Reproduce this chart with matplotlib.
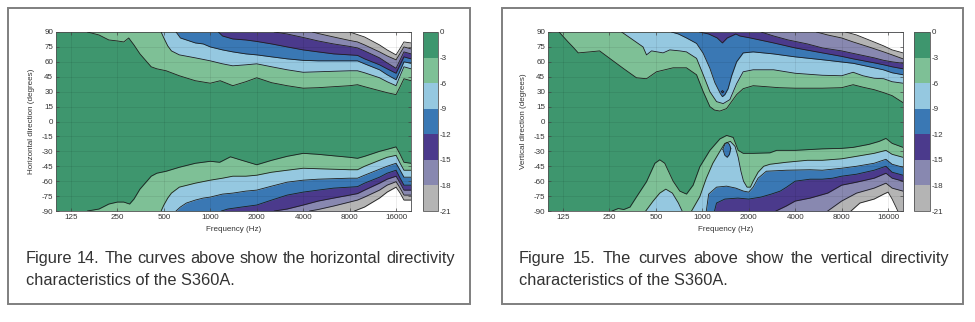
import numpy as np
import matplotlib
matplotlib.use('Agg')
import matplotlib.pyplot as plt
from matplotlib.colors import ListedColormap, BoundaryNorm
from matplotlib.cm import ScalarMappable
from matplotlib.patches import Rectangle
from matplotlib.ticker import NullLocator

plt.rcParams['font.family'] = ['Liberation Sans', 'DejaVu Sans']
plt.rcParams['axes.unicode_minus'] = False

# contour levels (dB) and the colours of the bands between them
levels = [0, -3, -6, -9, -12, -15, -18, -21]
band_colors = ['#3e966e', '#7ec096', '#95c8e0', '#3a78b4', '#4b3a8c', '#8888b0', '#b4b4b4']
below_colour = 'white'

freq_ticks = [125, 250, 500, 1000, 2000, 4000, 8000, 16000]
angle_ticks = list(range(-90, 91, 15))

# ---- Figure 14, horizontal: (frequency Hz, angle deg) along each contour
h_top_3 = [(160, 90), (190, 87), (220, 82), (250, 81), (275, 80), (296, 84), (320, 77), (350, 68),
           (414, 55), (450, 53), (518, 51), (630, 46), (800, 41), (1000, 38.5), (1160, 41), (1400, 36),
           (1700, 40), (2000, 44), (2500, 39), (3150, 36), (4000, 33.5), (5000, 34), (6300, 35),
           (8000, 36), (9000, 37), (10000, 35), (12500, 31), (14000, 29), (16000, 27), (17000, 35),
           (18000, 43), (20000, 41)]
h_top_6 = [(480, 90), (500, 84), (530, 76), (560, 71), (630, 67), (800, 64), (1000, 61), (1200, 58),
           (1400, 56), (1700, 57), (2000, 58), (2500, 55), (3150, 52), (4000, 49.5), (5000, 50),
           (6300, 50.5), (8000, 51), (9000, 51), (10000, 49), (12500, 44), (14000, 40), (16000, 36),
           (17000, 46), (18000, 55), (20000, 53)]
h_top_9 = [(600, 90), (640, 84), (700, 82), (800, 79), (900, 78), (1000, 75), (1200, 72), (1400, 70),
           (1700, 68), (2000, 67), (2500, 65), (3150, 63), (4000, 61.5), (5000, 61), (6300, 61),
           (8000, 61), (9000, 61), (10000, 58), (12500, 52), (14000, 47), (16000, 42), (17000, 51),
           (18000, 60), (20000, 58.5)]
h_top_12 = [(1130, 90), (1200, 86), (1400, 83), (1700, 82), (2000, 80.5), (2500, 78), (3150, 75),
            (4000, 72), (5000, 70), (6300, 68), (8000, 67), (9000, 66.5), (10000, 63), (12500, 57),
            (14000, 53), (16000, 48.5), (17000, 57), (18000, 65), (20000, 63)]
h_top_15 = [(2600, 90), (3150, 88), (4000, 84.5), (5000, 81), (6300, 78), (8000, 75.5), (9000, 74),
            (10000, 71), (12500, 64), (14000, 59), (16000, 53.5), (17000, 62), (18000, 70), (20000, 68)]
h_top_18 = [(4600, 90), (5000, 88.5), (6300, 85), (8000, 81.5), (9000, 80), (10000, 77), (12500, 70),
            (14000, 66), (16000, 62), (17000, 68.5), (18000, 75), (20000, 73)]
h_top_21 = [(8000, 90), (10000, 85), (12500, 77), (14000, 72), (16000, 67), (17000, 73.5),
            (18000, 80), (20000, 79)]

h_bot_3 = [(160, -90), (190, -88), (220, -83), (250, -81), (275, -81), (300, -83), (320, -78),
           (350, -68), (414, -55), (450, -52), (518, -50), (630, -46), (800, -42), (1000, -40),
           (1150, -41), (1350, -35.5), (1600, -39), (2000, -43.5), (2500, -39), (3150, -35),
           (4000, -32), (5000, -33), (6300, -34.5), (8000, -36), (9000, -37), (10000, -35),
           (12500, -30), (14000, -28), (16000, -25.5), (17000, -33), (18000, -41), (20000, -42)]
h_bot_6 = [(480, -90), (500, -84), (530, -77), (560, -72), (630, -66), (800, -62), (1000, -59),
           (1200, -57), (1400, -55), (1700, -55), (2000, -54), (2500, -51), (3150, -49), (4000, -47),
           (5000, -47.5), (6300, -48), (8000, -48.5), (9000, -48.5), (10000, -45), (12500, -39),
           (14000, -36), (16000, -34), (17000, -42), (18000, -49), (20000, -49)]
h_bot_9 = [(600, -90), (640, -86), (700, -82), (800, -79), (900, -77), (1000, -76), (1200, -73),
           (1400, -72), (1700, -70), (2000, -69), (2500, -65), (3150, -61), (4000, -59), (5000, -58),
           (6300, -57.5), (8000, -57), (9000, -57), (10000, -54), (12500, -48), (14000, -45),
           (16000, -42), (17000, -49), (18000, -56), (20000, -56)]
h_bot_12 = [(1180, -90), (1300, -88), (1600, -86), (2000, -84), (2500, -79), (3150, -74), (4000, -71),
            (5000, -69), (6300, -67), (8000, -66), (9000, -65.5), (10000, -62), (12500, -56),
            (14000, -52), (16000, -49), (17000, -57), (18000, -64), (20000, -64)]
h_bot_15 = [(2600, -90), (3150, -88), (4000, -84), (5000, -80), (6300, -77), (8000, -74),
            (9000, -72.5), (10000, -69), (12500, -62), (14000, -58), (16000, -55), (17000, -62),
            (18000, -69), (20000, -69)]
h_bot_18 = [(4400, -90), (5000, -88.5), (6300, -85), (8000, -81), (9000, -79), (10000, -76),
            (12500, -69), (14000, -64), (16000, -60.5), (17000, -67), (18000, -74), (20000, -74)]
h_bot_21 = [(8600, -90), (10000, -86), (12500, -77), (14000, -71), (16000, -66), (17000, -72),
            (18000, -79), (20000, -79)]

# ---- Figure 15, vertical
v_top_3 = [(118, 90), (135, 80), (145, 75), (157, 69), (186, 70), (216, 71), (251, 63.5), (307, 53.5),
           (374, 44), (435, 43), (505, 50), (647, 54), (790, 54), (918, 47), (1014, 30), (1120, 15),
           (1200, 11.5), (1300, 10.5), (1437, 13), (1669, 27), (1841, 33), (2137, 36), (2600, 35),
           (3150, 34), (4000, 33.5), (6000, 33.5), (8000, 34), (9500, 37), (11000, 34.5), (13000, 32),
           (15000, 29), (17000, 26), (20000, 19)]
v_top_6 = [(300, 90), (356, 82), (413, 75), (435, 67), (469, 71), (557, 69), (616, 72), (715, 71),
           (790, 70), (918, 63.5), (1014, 47), (1120, 30), (1237, 20), (1366, 18), (1509, 22),
           (1669, 38), (1841, 50), (2137, 52), (2900, 52), (4000, 48.5), (6000, 46.5), (8000, 46),
           (9500, 49.5), (11000, 46), (13000, 43.5), (15000, 43), (17000, 40), (20000, 38.5)]
v_top_9 = [(632, 90), (700, 88), (790, 84), (918, 78.5), (1014, 68.5), (1120, 53.5), (1207, 39),
           (1310, 28), (1350, 25), (1400, 27), (1470, 33), (1550, 46), (1669, 60), (1841, 69),
           (2137, 70), (2882, 68), (4000, 65), (6083, 62), (9523, 58.5), (13000, 54), (14900, 52),
           (17000, 49), (20000, 47)]
v_top_12 = [(960, 90), (1100, 88), (1250, 84), (1350, 79), (1450, 84), (1650, 88), (1750, 86),
            (2050, 84), (2900, 79), (4000, 74), (6000, 69), (8000, 65.5), (9500, 63), (13000, 59),
            (15000, 57), (17000, 55), (20000, 53)]
v_top_15 = [(2400, 90), (2900, 86), (3600, 82), (4800, 78), (6000, 74), (8000, 71), (9500, 68.5),
            (13000, 64), (15000, 61.5), (17000, 60), (20000, 58.5)]
v_top_18 = [(5500, 90), (6500, 87), (8000, 84), (9500, 80), (12000, 75), (15000, 70), (17000, 67),
            (20000, 63)]
v_top_21 = [(8500, 90), (10000, 87), (12500, 81), (15000, 76), (17000, 72), (20000, 69)]

v_bot_3 = [(260, -90), (285, -87.5), (310, -88.5), (340, -86), (374, -76), (435, -60.5), (493, -42),
           (530, -38.5), (571, -42), (647, -60), (715, -70), (790, -73), (872, -64), (964, -45.5),
           (1120, -29), (1300, -17.5), (1437, -14), (1586, -16), (1709, -29), (1841, -32),
           (2137, -32), (2744, -31.5), (3031, -29), (4000, -29), (6000, -27.5), (8000, -27),
           (9500, -26), (12000, -23), (14000, -20), (15500, -17), (17000, -22), (20000, -26)]
v_bot_6_lobe = [(430, -90), (480, -80), (530, -72), (580, -68), (640, -72), (700, -82), (740, -90)]
v_bot_6 = [(852, -90), (964, -75.5), (1062, -57), (1170, -42), (1300, -30), (1400, -22), (1520, -20),
           (1630, -25), (1709, -36), (1780, -50), (1850, -60), (1950, -66), (2050, -66), (2137, -60),
           (2300, -51), (2500, -45), (2744, -43), (3500, -41), (4800, -39), (6000, -39), (8000, -37.5),
           (10000, -35), (13000, -32), (15500, -29), (17000, -33), (20000, -36)]
v_bot_9 = [(1062, -90), (1100, -73), (1237, -66), (1437, -65), (1650, -67), (1850, -70), (2000, -71),
           (2137, -66), (2300, -57), (2600, -50), (3500, -49), (5000, -48.5), (6000, -49), (8000, -47),
           (10000, -45), (13000, -42), (15500, -38), (17000, -43), (20000, -46)]
v_bot_12 = [(1200, -90), (1237, -82), (1400, -78), (1700, -77), (2000, -78), (2400, -76), (2800, -73),
            (3200, -70), (3520, -66), (4000, -60), (5000, -58), (6000, -58), (7000, -57), (8000, -55),
            (10000, -53), (13000, -49), (15500, -45), (17000, -51), (20000, -54)]
v_bot_15 = [(3000, -90), (3500, -85), (4000, -80), (5000, -77), (6500, -72), (8000, -64), (10000, -61),
            (13000, -57), (15500, -52), (17000, -57), (20000, -60)]
v_bot_18 = [(6500, -90), (8000, -80), (10000, -72), (13000, -67), (15500, -62), (17000, -67),
            (20000, -70)]
v_bot_21 = [(9200, -90), (10500, -82), (13000, -78), (15000, -73), (16000, -71), (17000, -78),
            (18000, -86), (18500, -90)]

# closed contours: frequencies, lower edge, upper edge
v_isl_9_f = [1360, 1400, 1450, 1500, 1530]
v_isl_9_lo = [-28, -34, -36, -33, -27]
v_isl_9_hi = [-28, -23, -21, -23, -27]
v_dot_12_f = [1330, 1350, 1375]
v_dot_12_lo = [30, 28.8, 30]
v_dot_12_hi = [30, 31.2, 30]

caption_14 = ['Figure 14. The curves above show the horizontal directivity',
              'characteristics of the S360A.']
caption_15 = ['Figure 15. The curves above show the vertical directivity',
              'characteristics of the S360A.']

W, H = 975, 322
fig = plt.figure(figsize=(W / 100, H / 100), dpi=100)
line_col = '#1e1e1e'
text_col = '#333333'
fill_cols = band_colors[1:] + [below_colour]


def box(x0, y0, x1, y1):
    return [x0 / W, 1 - y1 / H, (x1 - x0) / W, (y1 - y0) / H]


def contour_band(ax, pts, col, edge):
    f, a = np.array(pts, float).T
    ax.fill_between(f, a, edge, color=col, lw=0, zorder=1)
    ax.plot(f, a, color=line_col, lw=0.6, zorder=3)


def island(ax, f, lo, hi, col):
    ax.fill_between(f, lo, hi, color=col, lw=0, zorder=1.5)
    ax.plot(f, lo, color=line_col, lw=0.6, zorder=3)
    ax.plot(f, hi, color=line_col, lw=0.6, zorder=3)


def style(ax, ylabel):
    ax.set_xscale('log')
    ax.set_xlim(100, 20000)
    ax.set_ylim(-90, 90)
    ax.set_facecolor(band_colors[0])
    ax.set_xticks(freq_ticks)
    ax.set_xticklabels([str(v) for v in freq_ticks])
    ax.xaxis.set_minor_locator(NullLocator())
    ax.set_yticks(angle_ticks)
    ax.set_yticklabels([str(v) for v in angle_ticks])
    ax.set_axisbelow(False)
    ax.grid(True, color='black', alpha=0.10, lw=0.5)
    ax.tick_params(direction='in', length=2, width=0.5, top=True, right=True,
                   labelsize=5.8, colors='#444444', labelcolor=text_col, pad=2)
    for s in ax.spines.values():
        s.set_linewidth(0.6)
        s.set_color('#555555')
    ax.set_xlabel('Frequency (Hz)', fontsize=5.8, color=text_col)
    ax.set_ylabel(ylabel, fontsize=5.8, color=text_col)
    ax.xaxis.set_label_coords(0.5, -0.085)
    ax.yaxis.set_label_coords(-0.058, 0.5)


def colour_bar(rect):
    cax = fig.add_axes(rect)
    cmap = ListedColormap(band_colors[::-1])
    norm = BoundaryNorm(levels[::-1], cmap.N)
    cb = fig.colorbar(ScalarMappable(norm=norm, cmap=cmap), cax=cax, ticks=levels)
    cb.ax.set_yticklabels([str(v) for v in levels])
    cax.tick_params(length=0, labelsize=5.8, labelcolor=text_col, pad=1.5)
    cb.outline.set_linewidth(0.6)
    cb.outline.set_edgecolor('#555555')


# Figure 14
ax1 = fig.add_axes(box(56, 32, 411, 211))
for pts, col in zip([h_top_3, h_top_6, h_top_9, h_top_12, h_top_15, h_top_18, h_top_21], fill_cols):
    contour_band(ax1, pts, col, 90)
for pts, col in zip([h_bot_3, h_bot_6, h_bot_9, h_bot_12, h_bot_15, h_bot_18, h_bot_21], fill_cols):
    contour_band(ax1, pts, col, -90)
style(ax1, 'Horizontal direction (degrees)')
colour_bar(box(423, 32, 438, 211))

# Figure 15
ax2 = fig.add_axes(box(548, 32, 903, 211))
for pts, col in zip([v_top_3, v_top_6, v_top_9, v_top_12, v_top_15, v_top_18, v_top_21], fill_cols):
    contour_band(ax2, pts, col, 90)
bot_layers = [(v_bot_3, fill_cols[0]), (v_bot_6_lobe, fill_cols[1]), (v_bot_6, fill_cols[1]),
              (v_bot_9, fill_cols[2]), (v_bot_12, fill_cols[3]), (v_bot_15, fill_cols[4]),
              (v_bot_18, fill_cols[5]), (v_bot_21, fill_cols[6])]
for pts, col in bot_layers:
    contour_band(ax2, pts, col, -90)
island(ax2, v_isl_9_f, v_isl_9_lo, v_isl_9_hi, band_colors[3])
island(ax2, v_dot_12_f, v_dot_12_lo, v_dot_12_hi, band_colors[4])
style(ax2, 'Vertical direction (degrees)')
colour_bar(box(914, 32, 930, 211))

# panel frames
for x0, x1 in [(8, 470), (502, 963)]:
    fig.add_artist(Rectangle((x0 / W, 1 - 304 / H), (x1 - x0) / W, 296 / H,
                             transform=fig.transFigure, fill=False, ec='#7f7f7f', lw=1.4))

# captions, first line justified
renderer = fig.canvas.get_renderer()
probe = fig.text(0, 0, caption_14[1], fontsize=10)
fs = 10 * 209 / probe.get_window_extent(renderer).width
probe.remove()


def caption(lines, x0, x1):
    words = lines[0].split(' ')
    texts = [fig.text(0, 1 - 263 / H, w, fontsize=fs, color=text_col, va='baseline') for w in words]
    widths = [t.get_window_extent(renderer).width for t in texts]
    gap = (x1 - x0 - sum(widths)) / (len(words) - 1)
    x = x0
    for t, w in zip(texts, widths):
        t.set_x(x / W)
        x += w + gap
    fig.text(x0 / W, 1 - 285 / H, lines[1], fontsize=fs, color=text_col, va='baseline')


caption(caption_14, 26, 455)
caption(caption_15, 519, 949)

fig.savefig('out.png', dpi=100)
